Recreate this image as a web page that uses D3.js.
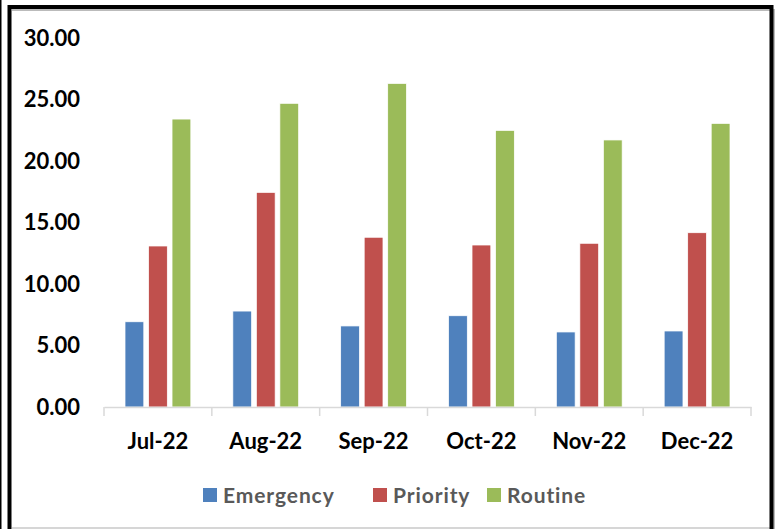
<!DOCTYPE html>
<html>
<head>
<meta charset="utf-8">
<script src="https://cdn.jsdelivr.net/npm/d3@7"></script>
<style>
  body { margin: 0; background: #fff; }
  text { font-family: Lato, "Open Sans", sans-serif; }
</style>
</head>
<body>
<div id="chart"></div>
<script>
var months = ["Jul-22", "Aug-22", "Sep-22", "Oct-22", "Nov-22", "Dec-22"];
var seriesNames = ["Emergency", "Priority", "Routine"];
var emergency = [6.93, 7.80, 6.59, 7.42, 6.10, 6.18];
var priority = [13.09, 17.45, 13.80, 13.17, 13.31, 14.17];
var routine = [23.41, 24.69, 26.31, 22.49, 21.71, 23.06];
var yTicks = [0, 5, 10, 15, 20, 25, 30];
var colors = ["#4F81BD", "#C0504D", "#9BBB59"];

var svgWidth = 779;
var svgHeight = 529;

var margin = { top: 38, right: 28, bottom: 122, left: 104 };
var width = 751 - margin.left;
var height = 407 - margin.top;

var svg = d3.select("#chart").append("svg")
  .attr("width", svgWidth)
  .attr("height", svgHeight);

// frame
svg.append("line")
  .attr("x1", 0.75).attr("x2", 0.75).attr("y1", 0).attr("y2", svgHeight)
  .attr("stroke", "#000").attr("stroke-width", 1.5);
svg.append("line")
  .attr("x1", 12).attr("x2", 770).attr("y1", 528).attr("y2", 528)
  .attr("stroke", "#c8c8c8").attr("stroke-width", 1.5);
svg.append("path")
  .attr("d", "M12,10 H774 V529")
  .attr("fill", "none").attr("stroke", "#bbb").attr("stroke-width", 2);
svg.append("path")
  .attr("d", "M9.5,529 V7 H771.5 V529")
  .attr("fill", "none").attr("stroke", "#000").attr("stroke-width", 4);

var chartGroup = svg.append("g")
  .attr("transform", `translate(${margin.left}, ${margin.top})`);

var data = months.map(function(m, i) {
  return { month: m, values: [emergency[i], priority[i], routine[i]] };
});

var x0 = d3.scaleBand()
  .domain(months)
  .range([0, width]);

var x1 = d3.scaleBand()
  .domain(seriesNames)
  .range([21, x0.bandwidth() - 21])
  .paddingInner(0.2);

var y = d3.scaleLinear()
  .domain([0, 30])
  .range([height, 0]);

// y axis labels (no line)
var leftAxis = d3.axisLeft(y)
  .tickValues(yTicks)
  .tickFormat(d3.format(".2f"))
  .tickSize(0)
  .tickPadding(24);

var yAxis = chartGroup.append("g").call(leftAxis);
yAxis.select(".domain").remove();
yAxis.selectAll("text")
  .attr("font-size", "22px")
  .attr("font-weight", "bold")
  .attr("fill", "#000")
  .style("font-family", "Lato, 'Open Sans', sans-serif");

// bars
var groups = chartGroup.selectAll(".month")
  .data(data)
  .enter()
  .append("g")
  .attr("transform", d => `translate(${x0(d.month)}, 0)`);

groups.selectAll("rect")
  .data(d => d.values.map((v, i) => ({ name: seriesNames[i], value: v, i: i })))
  .enter()
  .append("rect")
  .attr("x", d => x1(d.name))
  .attr("y", d => y(d.value))
  .attr("width", x1.bandwidth())
  .attr("height", d => height - y(d.value))
  .attr("fill", d => colors[d.i])
  .attr("stroke", "#fff")
  .attr("stroke-width", 0.75);

// x axis
var bottomAxis = d3.axisBottom(x0)
  .tickSize(0)
  .tickPadding(26);

var xAxis = chartGroup.append("g")
  .attr("transform", `translate(0, ${height})`)
  .call(bottomAxis);

xAxis.select(".domain")
  .attr("stroke", "#d9d9d9")
  .attr("stroke-width", 1.5);
xAxis.selectAll("text")
  .attr("font-size", "22px")
  .attr("font-weight", "bold")
  .attr("fill", "#000")
  .style("font-family", "Lato, 'Open Sans', sans-serif");

// category boundary ticks
chartGroup.append("g")
  .selectAll("line")
  .data(months.concat(["end"]))
  .enter()
  .append("line")
  .attr("x1", (d, i) => i * x0.step())
  .attr("x2", (d, i) => i * x0.step())
  .attr("y1", height)
  .attr("y2", height + 9)
  .attr("stroke", "#d9d9d9")
  .attr("stroke-width", 1.5);

// legend
var legendX = [203, 373, 487];
var legend = svg.append("g");
var items = legend.selectAll("g")
  .data(seriesNames)
  .enter()
  .append("g")
  .attr("transform", (d, i) => `translate(${legendX[i]}, 488)`);

items.append("rect")
  .attr("width", 14)
  .attr("height", 14)
  .attr("fill", (d, i) => colors[i]);

items.append("text")
  .attr("x", 20)
  .attr("y", 7)
  .attr("dy", "0.36em")
  .attr("font-size", "21px")
  .attr("font-weight", "bold")
  .attr("letter-spacing", "0.9px")
  .attr("fill", "#595959")
  .text(d => d);
</script>
</body>
</html>
